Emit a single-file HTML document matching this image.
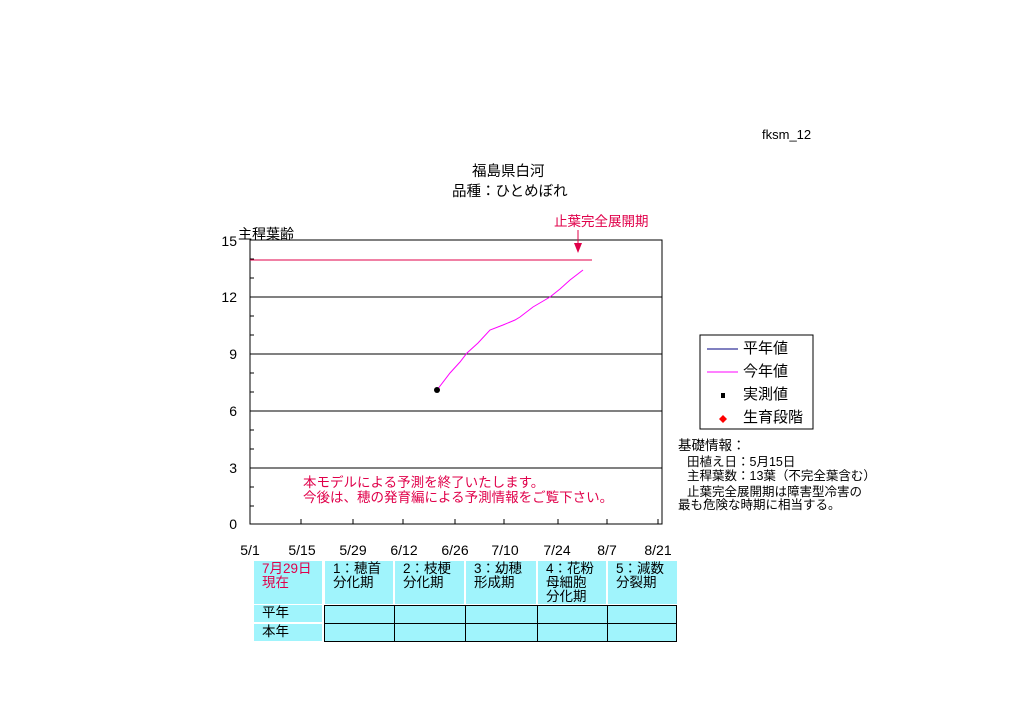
<!DOCTYPE html><html><head><meta charset="utf-8"><style>
body{margin:0;background:#fff;width:1024px;height:724px;position:relative;font-family:"Liberation Sans","Noto Sans CJK JP",sans-serif;font-size:13px;color:#000;overflow:hidden}
.a{position:absolute;white-space:nowrap;line-height:15px}
.c{position:absolute;background:#a0f4fc;line-height:14px;padding:1px 0 0 8px;box-sizing:border-box;font-size:13.5px;white-space:nowrap}
</style></head><body>
<svg width="1024" height="724" style="position:absolute;left:0;top:0" font-family="Liberation Sans,Noto Sans CJK JP,sans-serif" font-size="14">
<rect x="250" y="240" width="412" height="284" fill="none" stroke="#000"/>
<g stroke="#000"><line x1="250" y1="297" x2="662" y2="297"/><line x1="250" y1="354" x2="662" y2="354"/><line x1="250" y1="411" x2="662" y2="411"/><line x1="250" y1="468" x2="662" y2="468"/>
<line x1="250" y1="259" x2="254" y2="259"/><line x1="250" y1="278" x2="254" y2="278"/><line x1="250" y1="316" x2="254" y2="316"/><line x1="250" y1="335" x2="254" y2="335"/><line x1="250" y1="373" x2="254" y2="373"/><line x1="250" y1="392" x2="254" y2="392"/><line x1="250" y1="430" x2="254" y2="430"/><line x1="250" y1="449" x2="254" y2="449"/><line x1="250" y1="487" x2="254" y2="487"/><line x1="250" y1="506" x2="254" y2="506"/>
<line x1="301" y1="519" x2="301" y2="524"/><line x1="353" y1="519" x2="353" y2="524"/><line x1="403" y1="519" x2="403" y2="524"/><line x1="455" y1="519" x2="455" y2="524"/><line x1="504" y1="519" x2="504" y2="524"/><line x1="558" y1="519" x2="558" y2="524"/><line x1="607" y1="519" x2="607" y2="524"/><line x1="658" y1="519" x2="658" y2="524"/></g>
<line x1="250" y1="260" x2="592" y2="260" stroke="#e0004a"/>
<polyline points="437,390 450,373 460,362 467,353 478,343 490,330 503,325 515,320 520,317 533,307 550,297 560,289 570,280 583,270" fill="none" stroke="#ff00ff"/>
<circle cx="437" cy="390" r="3" fill="#000"/>
<line x1="578" y1="230" x2="578" y2="252" stroke="#e0004a"/><polygon points="574,243 582,243 578,253" fill="#e0004a"/>
<g text-anchor="end"><text x="237" y="246">15</text><text x="237" y="302">12</text><text x="237" y="359">9</text><text x="237" y="416">6</text><text x="237" y="473">3</text><text x="237" y="529">0</text></g>
<g text-anchor="middle"><text x="250" y="555">5/1</text><text x="302" y="555">5/15</text><text x="353" y="555">5/29</text><text x="404" y="555">6/12</text><text x="455" y="555">6/26</text><text x="505" y="555">7/10</text><text x="557" y="555">7/24</text><text x="607" y="555">8/7</text><text x="658" y="555">8/21</text></g>
<rect x="700" y="335" width="113" height="94" fill="none" stroke="#000"/>
<line x1="707" y1="349" x2="738" y2="349" stroke="#000080"/><line x1="707" y1="372" x2="738" y2="372" stroke="#ff00ff"/>
<rect x="721" y="393" width="4" height="5" fill="#000"/><polygon points="723,415 727,419 723,423 719,419" fill="#ff0000"/>
</svg>
<div class="a" style="left:762px;top:127px">fksm_12</div>
<div class="a" style="left:472px;top:165px;font-size:14.5px">福島県白河</div>
<div class="a" style="left:452px;top:185px;font-size:14.5px">品種：ひとめぼれ</div>
<div class="a" style="left:238px;top:227px;font-size:14px">主稈葉齢</div>
<div class="a" style="left:554px;top:214px;color:#e0004a;font-size:13.5px">止葉完全展開期</div>
<div class="a" style="left:303px;top:475px;color:#e0004a;font-size:13.5px">本モデルによる予測を終了いたします。</div>
<div class="a" style="left:303px;top:490px;color:#e0004a;font-size:13.5px">今後は、穂の発育編による予測情報をご覧下さい。</div>
<div class="a" style="left:743px;top:341px;font-size:15px">平年値</div>
<div class="a" style="left:743px;top:364px;font-size:15px">今年値</div>
<div class="a" style="left:743px;top:387px;font-size:15px">実測値</div>
<div class="a" style="left:743px;top:410px;font-size:15px">生育段階</div>
<div class="a" style="left:678px;top:438px;font-size:13.5px">基礎情報：</div>
<div class="a" style="left:687px;top:455px;font-size:12.5px">田植え日：5月15日</div>
<div class="a" style="left:687px;top:469px;font-size:12.5px">主稈葉数：13葉（不完全葉含む）</div>
<div class="a" style="left:687px;top:485px;font-size:12.5px">止葉完全展開期は障害型冷害の</div>
<div class="a" style="left:678px;top:498px;font-size:12.5px">最も危険な時期に相当する。</div>
<div class="c" style="left:254px;top:561px;width:68px;height:43px;color:#e0004a">7月29日<br>現在</div>
<div class="c" style="left:325px;top:561px;width:68px;height:43px">1：穂首<br>分化期</div>
<div class="c" style="left:395px;top:561px;width:69px;height:43px">2：枝梗<br>分化期</div>
<div class="c" style="left:466px;top:561px;width:70px;height:43px">3：幼穂<br>形成期</div>
<div class="c" style="left:538px;top:561px;width:68px;height:43px">4：花粉<br>母細胞<br>分化期</div>
<div class="c" style="left:608px;top:561px;width:69px;height:43px">5：減数<br>分裂期</div>
<div class="c" style="left:254px;top:605px;width:68px;height:17px">平年</div>
<div class="c" style="left:254px;top:624px;width:68px;height:17px">本年</div>
<div style="position:absolute;left:324px;top:605px;width:353px;height:37px;background:#a0f4fc;border:1px solid #000;box-sizing:border-box"></div>
<svg width="1024" height="724" style="position:absolute;left:0;top:0"><g stroke="#000"><line x1="324" y1="623.5" x2="677" y2="623.5"/><line x1="394.5" y1="605" x2="394.5" y2="642"/><line x1="465.5" y1="605" x2="465.5" y2="642"/><line x1="537.5" y1="605" x2="537.5" y2="642"/><line x1="607.5" y1="605" x2="607.5" y2="642"/></g></svg>
</body></html>
